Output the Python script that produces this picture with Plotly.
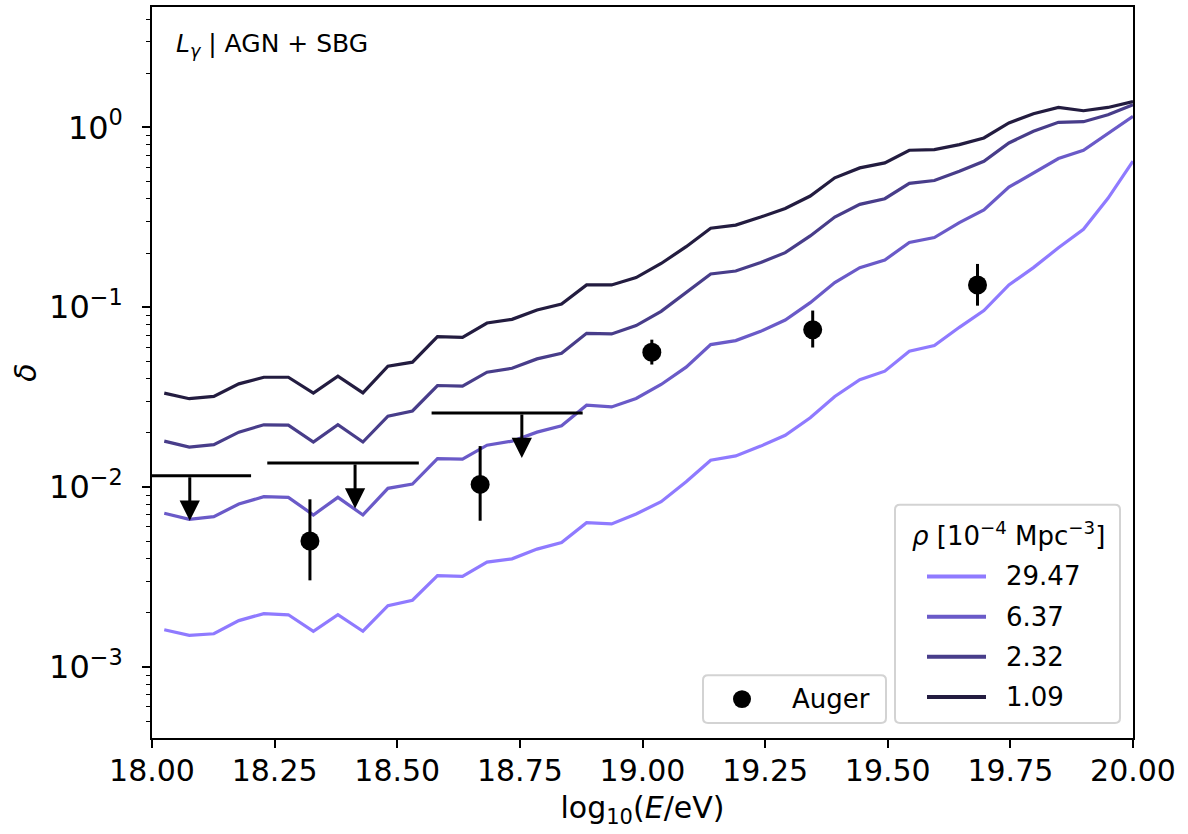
import numpy as np
import plotly.graph_objects as go

# Energy bins, log10(E/eV)
log_e = [18.025, 18.076, 18.126, 18.177, 18.228, 18.278, 18.329, 18.379, 18.430, 18.481,
         18.531, 18.582, 18.633, 18.683, 18.734, 18.785, 18.835, 18.886, 18.937, 18.987,
         19.038, 19.089, 19.139, 19.190, 19.241, 19.291, 19.342, 19.392, 19.443, 19.494,
         19.544, 19.595, 19.646, 19.696, 19.747, 19.797, 19.848, 19.899, 19.949, 20.000]

# Dipole amplitude delta for each source density rho [1e-4 Mpc^-3]
delta_29_47 = [0.00161, 0.00150, 0.00153, 0.00181, 0.00198, 0.00195, 0.00158, 0.00195, 0.00158, 0.00219,
               0.00235, 0.00322, 0.00319, 0.00383, 0.00399, 0.00452, 0.00492, 0.00634, 0.00624, 0.00709,
               0.00829, 0.0107, 0.0141, 0.0149, 0.0169, 0.0194, 0.0243, 0.0319, 0.0395, 0.0441,
               0.0569, 0.0612, 0.0773, 0.0957, 0.133, 0.166, 0.214, 0.271, 0.403, 0.648]
delta_6_37 = [0.00715, 0.00662, 0.00685, 0.00805, 0.00884, 0.00877, 0.00700, 0.00877, 0.00700, 0.00984,
              0.0104, 0.0144, 0.0143, 0.0171, 0.0180, 0.0202, 0.0219, 0.0285, 0.0279, 0.0311,
              0.0372, 0.0464, 0.0620, 0.0652, 0.0734, 0.0849, 0.106, 0.137, 0.166, 0.183,
              0.229, 0.244, 0.295, 0.347, 0.465, 0.558, 0.671, 0.746, 0.922, 1.15]
delta_2_32 = [0.0180, 0.0167, 0.0172, 0.0202, 0.0222, 0.0221, 0.0178, 0.0222, 0.0178, 0.0248,
              0.0265, 0.0367, 0.0364, 0.0435, 0.0458, 0.0516, 0.0555, 0.0716, 0.0710, 0.079,
              0.0948, 0.120, 0.153, 0.159, 0.177, 0.201, 0.249, 0.317, 0.373, 0.401,
              0.488, 0.506, 0.570, 0.648, 0.819, 0.950, 1.066, 1.075, 1.175, 1.335]
delta_1_09 = [0.0333, 0.0310, 0.0319, 0.0375, 0.0408, 0.0408, 0.0333, 0.0414, 0.0334, 0.0470,
              0.0495, 0.0686, 0.0680, 0.0817, 0.0856, 0.0965, 0.104, 0.133, 0.133, 0.146,
              0.175, 0.217, 0.275, 0.286, 0.317, 0.354, 0.415, 0.524, 0.595, 0.634,
              0.746, 0.752, 0.802, 0.873, 1.057, 1.19, 1.29, 1.237, 1.29, 1.39]

density_labels = ["29.47", "6.37", "2.32", "1.09"]
density_series = [delta_29_47, delta_6_37, delta_2_32, delta_1_09]
density_colors = ["#8f7aff", "#6a5ac8", "#483d8a", "#231c40"]

# Auger measurements
auger_x = [18.322, 18.669, 19.019, 19.347, 19.683]
auger_y = [0.00502, 0.01035, 0.0562, 0.0750, 0.133]
auger_err_hi = [0.00353, 0.00655, 0.0098, 0.0208, 0.041]
auger_err_lo = [0.00199, 0.00385, 0.0082, 0.0153, 0.031]

# Auger upper limits
ul_x = [18.077, 18.414, 18.754]
ul_x_lo = [18.000, 18.235, 18.570]
ul_x_hi = [18.202, 18.544, 18.878]
ul_y = [0.01155, 0.01363, 0.0258]
ul_tip = [0.0065, 0.0076, 0.01449]

FONT = "DejaVu Sans"
W, H = 1188, 834
M_L, M_R, M_T, M_B = 152, 55, 5, 96
PW, PH = W - M_L - M_R, H - M_T - M_B


def px(x):
    """Horizontal pixel position -> paper coordinate."""
    return (x - M_L) / PW


def py(y):
    """Vertical pixel position (from top) -> paper coordinate."""
    return (H - M_B - y) / PH


fig = go.Figure()

for label, ys, color in zip(density_labels, density_series, density_colors):
    fig.add_trace(go.Scatter(
        x=log_e, y=ys, mode="lines", name=label,
        line=dict(color=color, width=3.2), showlegend=False,
    ))

# Horizontal bars of the upper limits
for xl, xh, yv in zip(ul_x_lo, ul_x_hi, ul_y):
    fig.add_trace(go.Scatter(
        x=[xl, xh], y=[yv, yv], mode="lines",
        line=dict(color="black", width=3), showlegend=False, hoverinfo="skip",
    ))

fig.add_trace(go.Scatter(
    x=auger_x, y=auger_y, mode="markers", name="Auger",
    marker=dict(color="black", size=19),
    error_y=dict(type="data", symmetric=False, array=auger_err_hi,
                 arrayminus=auger_err_lo, color="black", thickness=3, width=0),
    showlegend=False,
))

# Downward arrows of the upper limits
for xv, yv, tip in zip(ul_x, ul_y, ul_tip):
    fig.add_annotation(
        x=xv, y=np.log10(tip), ax=xv, ay=np.log10(yv),
        xref="x", yref="y", axref="x", ayref="y",
        text="", showarrow=True, arrowhead=2, arrowsize=1.35,
        arrowwidth=3, arrowcolor="black", standoff=0, startstandoff=0,
    )

fig.add_annotation(
    x=px(174), y=py(43), xref="paper", yref="paper", xanchor="left", yanchor="middle",
    text="<i>L</i><sub><i>γ</i></sub> | AGN + SBG", showarrow=False,
    font=dict(family=FONT, size=25, color="black"),
)


def legend_box(x0, y0, x1, y1, r=5):
    """Rounded frame in pixel space, expressed as a paper-coordinate path."""
    pts = [
        f"M{px(x0 + r)},{py(y0)}", f"L{px(x1 - r)},{py(y0)}",
        f"Q{px(x1)},{py(y0)} {px(x1)},{py(y0 + r)}", f"L{px(x1)},{py(y1 - r)}",
        f"Q{px(x1)},{py(y1)} {px(x1 - r)},{py(y1)}", f"L{px(x0 + r)},{py(y1)}",
        f"Q{px(x0)},{py(y1)} {px(x0)},{py(y1 - r)}", f"L{px(x0)},{py(y0 + r)}",
        f"Q{px(x0)},{py(y0)} {px(x0 + r)},{py(y0)}", "Z",
    ]
    fig.add_shape(type="path", path=" ".join(pts), xref="paper", yref="paper",
                  fillcolor="rgba(255,255,255,0.8)", line=dict(color="#d3d3d3", width=2))


# Density legend
legend_box(895, 504, 1120, 723)
fig.add_annotation(
    x=px(1008), y=py(533), xref="paper", yref="paper", xanchor="center", yanchor="middle",
    text="<i>ρ</i> [10<sup>−4</sup> Mpc<sup>−3</sup>]", showarrow=False,
    font=dict(family=FONT, size=26, color="black"),
)
for i, (label, color) in enumerate(zip(density_labels, density_colors)):
    row_y = 576 + 40.3 * i
    fig.add_shape(type="line", xref="paper", yref="paper",
                  x0=px(927), x1=px(986), y0=py(row_y), y1=py(row_y),
                  line=dict(color=color, width=4))
    fig.add_annotation(
        x=px(1004), y=py(row_y), xref="paper", yref="paper", xanchor="left", yanchor="middle",
        text=label, showarrow=False, font=dict(family=FONT, size=26, color="black"),
    )

# Auger legend
legend_box(703, 675, 886, 723)
fig.add_shape(type="circle", xref="paper", yref="paper",
              x0=px(742 - 9), x1=px(742 + 9), y0=py(699 - 9), y1=py(699 + 9),
              fillcolor="black", line=dict(color="black", width=0))
fig.add_annotation(
    x=px(790), y=py(699), xref="paper", yref="paper", xanchor="left", yanchor="middle",
    text="Auger", showarrow=False, font=dict(family=FONT, size=26, color="black"),
)

major_vals = [1e-3, 1e-2, 1e-1, 1.0]
major_text = ["10<sup>−3</sup>", "10<sup>−2</sup>", "10<sup>−1</sup>", "10<sup>0</sup>"]
minor_vals = [m * 10.0 ** e for e in range(-4, 1) for m in range(2, 10)
              if 3.9e-4 < m * 10.0 ** e < 4.7]

fig.update_xaxes(
    range=[18, 20], tickmode="array",
    tickvals=[18.0, 18.25, 18.5, 18.75, 19.0, 19.25, 19.5, 19.75, 20.0],
    ticktext=["18.00", "18.25", "18.50", "18.75", "19.00", "19.25", "19.50", "19.75", "20.00"],
    ticks="outside", ticklen=8, tickwidth=1.5, tickcolor="black",
    showline=True, mirror=True, linecolor="black", linewidth=1.5,
    showgrid=False, zeroline=False, ticklabelstandoff=-3,
    tickfont=dict(family=FONT, size=30, color="black"),
    title=dict(text="log<sub>10</sub>(<i>E</i>/eV)", standoff=10,
               font=dict(family=FONT, size=30, color="black")),
)
fig.update_yaxes(
    type="log", range=[-3.395, 0.669], tickmode="array",
    tickvals=major_vals, ticktext=major_text,
    ticks="outside", ticklen=8, tickwidth=1.5, tickcolor="black",
    minor=dict(tickmode="array", tickvals=minor_vals, ticks="outside",
               ticklen=4.5, tickwidth=1.2, tickcolor="black", showgrid=False),
    showline=True, mirror=True, linecolor="black", linewidth=1.5,
    showgrid=False, zeroline=False, ticklabelstandoff=13,
    tickfont=dict(family=FONT, size=32, color="black"),
    title=dict(text="<i>δ</i>", standoff=4,
               font=dict(family=FONT, size=30, color="black")),
)

fig.update_layout(
    width=W, height=H,
    margin=dict(l=M_L, r=M_R, t=M_T, b=M_B),
    plot_bgcolor="white", paper_bgcolor="white",
    font=dict(family=FONT, color="black"),
    showlegend=False,
)

fig.write_html("out.html")
